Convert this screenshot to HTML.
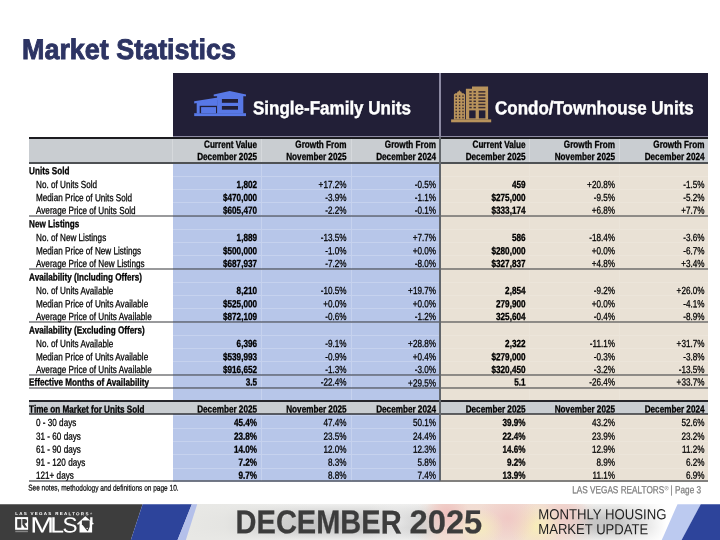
<!DOCTYPE html>
<html><head><meta charset="utf-8"><title>Market Statistics</title>
<style>
html,body{margin:0;padding:0;}
body{width:720px;height:540px;position:relative;overflow:hidden;background:#fff;font-family:"Liberation Sans",sans-serif;}
#p div,#p span{position:absolute;}
#p span{left:0;top:0;width:0;height:0;transform-origin:0 0;display:block;}
#p span i{position:absolute;top:0;font-style:normal;white-space:nowrap;line-height:1;display:block;}
#ft div{position:absolute;}
#p svg{position:absolute;left:0;top:0;}
#p{will-change:transform;position:absolute;left:0;top:0;width:720px;height:540px;}
</style></head><body><div id="p">
<span style="transform:translate(22.00px,35.00px) scale(0.9514,1.0) rotate(0.03deg)"><i style="font-size:28.3px;color:#2d3463;font-weight:700;left:0;-webkit-text-stroke:0.9px #2d3463;">Market Statistics</i></span><div style="left:172.50px;top:72.50px;width:535.80px;height:64.50px;background:#221f37;"></div><div style="left:172.50px;top:137.00px;width:267.90px;height:344.30px;background:#b7c6e9;"></div><div style="left:440.40px;top:137.00px;width:267.90px;height:344.30px;background:#e9e1d5;"></div><div style="left:172.50px;top:175.67px;width:267.90px;height:0.80px;background:#c6d2ee;"></div><div style="left:440.40px;top:175.67px;width:267.90px;height:0.80px;background:#ece5da;"></div><div style="left:172.50px;top:188.94px;width:267.90px;height:0.80px;background:#c6d2ee;"></div><div style="left:440.40px;top:188.94px;width:267.90px;height:0.80px;background:#ece5da;"></div><div style="left:172.50px;top:202.21px;width:267.90px;height:0.80px;background:#c6d2ee;"></div><div style="left:440.40px;top:202.21px;width:267.90px;height:0.80px;background:#ece5da;"></div><div style="left:172.50px;top:215.48px;width:267.90px;height:0.80px;background:#c6d2ee;"></div><div style="left:440.40px;top:215.48px;width:267.90px;height:0.80px;background:#ece5da;"></div><div style="left:172.50px;top:228.75px;width:267.90px;height:0.80px;background:#c6d2ee;"></div><div style="left:440.40px;top:228.75px;width:267.90px;height:0.80px;background:#ece5da;"></div><div style="left:172.50px;top:242.02px;width:267.90px;height:0.80px;background:#c6d2ee;"></div><div style="left:440.40px;top:242.02px;width:267.90px;height:0.80px;background:#ece5da;"></div><div style="left:172.50px;top:255.29px;width:267.90px;height:0.80px;background:#c6d2ee;"></div><div style="left:440.40px;top:255.29px;width:267.90px;height:0.80px;background:#ece5da;"></div><div style="left:172.50px;top:268.56px;width:267.90px;height:0.80px;background:#c6d2ee;"></div><div style="left:440.40px;top:268.56px;width:267.90px;height:0.80px;background:#ece5da;"></div><div style="left:172.50px;top:281.83px;width:267.90px;height:0.80px;background:#c6d2ee;"></div><div style="left:440.40px;top:281.83px;width:267.90px;height:0.80px;background:#ece5da;"></div><div style="left:172.50px;top:295.10px;width:267.90px;height:0.80px;background:#c6d2ee;"></div><div style="left:440.40px;top:295.10px;width:267.90px;height:0.80px;background:#ece5da;"></div><div style="left:172.50px;top:308.37px;width:267.90px;height:0.80px;background:#c6d2ee;"></div><div style="left:440.40px;top:308.37px;width:267.90px;height:0.80px;background:#ece5da;"></div><div style="left:172.50px;top:321.64px;width:267.90px;height:0.80px;background:#c6d2ee;"></div><div style="left:440.40px;top:321.64px;width:267.90px;height:0.80px;background:#ece5da;"></div><div style="left:172.50px;top:334.91px;width:267.90px;height:0.80px;background:#c6d2ee;"></div><div style="left:440.40px;top:334.91px;width:267.90px;height:0.80px;background:#ece5da;"></div><div style="left:172.50px;top:348.18px;width:267.90px;height:0.80px;background:#c6d2ee;"></div><div style="left:440.40px;top:348.18px;width:267.90px;height:0.80px;background:#ece5da;"></div><div style="left:172.50px;top:361.45px;width:267.90px;height:0.80px;background:#c6d2ee;"></div><div style="left:440.40px;top:361.45px;width:267.90px;height:0.80px;background:#ece5da;"></div><div style="left:172.50px;top:374.72px;width:267.90px;height:0.80px;background:#c6d2ee;"></div><div style="left:440.40px;top:374.72px;width:267.90px;height:0.80px;background:#ece5da;"></div><div style="left:172.50px;top:387.99px;width:267.90px;height:0.80px;background:#c6d2ee;"></div><div style="left:440.40px;top:387.99px;width:267.90px;height:0.80px;background:#ece5da;"></div><div style="left:172.50px;top:401.26px;width:267.90px;height:0.80px;background:#c6d2ee;"></div><div style="left:440.40px;top:401.26px;width:267.90px;height:0.80px;background:#ece5da;"></div><div style="left:172.50px;top:414.53px;width:267.90px;height:0.80px;background:#c6d2ee;"></div><div style="left:440.40px;top:414.53px;width:267.90px;height:0.80px;background:#ece5da;"></div><div style="left:172.50px;top:427.80px;width:267.90px;height:0.80px;background:#c6d2ee;"></div><div style="left:440.40px;top:427.80px;width:267.90px;height:0.80px;background:#ece5da;"></div><div style="left:172.50px;top:441.07px;width:267.90px;height:0.80px;background:#c6d2ee;"></div><div style="left:440.40px;top:441.07px;width:267.90px;height:0.80px;background:#ece5da;"></div><div style="left:172.50px;top:454.34px;width:267.90px;height:0.80px;background:#c6d2ee;"></div><div style="left:440.40px;top:454.34px;width:267.90px;height:0.80px;background:#ece5da;"></div><div style="left:172.50px;top:467.61px;width:267.90px;height:0.80px;background:#c6d2ee;"></div><div style="left:440.40px;top:467.61px;width:267.90px;height:0.80px;background:#ece5da;"></div><div style="left:172.50px;top:480.88px;width:267.90px;height:0.80px;background:#c6d2ee;"></div><div style="left:440.40px;top:480.88px;width:267.90px;height:0.80px;background:#ece5da;"></div><div style="left:261.40px;top:137.00px;width:0.80px;height:344.30px;background:#c6d2ee;"></div><div style="left:350.70px;top:137.00px;width:0.80px;height:344.30px;background:#c6d2ee;"></div><div style="left:529.30px;top:137.00px;width:0.80px;height:344.30px;background:#ebe4d9;"></div><div style="left:618.60px;top:137.00px;width:0.80px;height:344.30px;background:#ebe4d9;"></div><div style="left:28.50px;top:137.00px;width:679.80px;height:25.80px;background:#c9cdd1;"></div><div style="left:172.10px;top:137.00px;width:0.80px;height:25.80px;background:#d6d9dc;"></div><div style="left:261.40px;top:137.00px;width:0.80px;height:25.80px;background:#d6d9dc;"></div><div style="left:350.70px;top:137.00px;width:0.80px;height:25.80px;background:#d6d9dc;"></div><div style="left:529.30px;top:137.00px;width:0.80px;height:25.80px;background:#d6d9dc;"></div><div style="left:618.60px;top:137.00px;width:0.80px;height:25.80px;background:#d6d9dc;"></div><div style="left:172.50px;top:135.90px;width:535.80px;height:1.00px;background:#8d8aa3;"></div><div style="left:28.50px;top:137.00px;width:679.80px;height:1.90px;background:#1c1c20;"></div><div style="left:28.50px;top:161.85px;width:679.80px;height:1.90px;background:#4e5154;"></div><span style="transform:translate(257.00px,139.62px) scale(0.8150,1.035) rotate(0.03deg)"><i style="font-size:10px;color:#000;font-weight:700;-webkit-text-stroke:0.3px #000;right:0;">Current Value</i></span><span style="transform:translate(257.00px,151.72px) scale(0.8150,1.035) rotate(0.03deg)"><i style="font-size:10px;color:#000;font-weight:700;-webkit-text-stroke:0.3px #000;right:0;">December 2025</i></span><span style="transform:translate(346.50px,139.62px) scale(0.8150,1.035) rotate(0.03deg)"><i style="font-size:10px;color:#000;font-weight:700;-webkit-text-stroke:0.3px #000;right:0;">Growth From</i></span><span style="transform:translate(346.50px,151.72px) scale(0.8150,1.035) rotate(0.03deg)"><i style="font-size:10px;color:#000;font-weight:700;-webkit-text-stroke:0.3px #000;right:0;">November 2025</i></span><span style="transform:translate(436.00px,139.62px) scale(0.8150,1.035) rotate(0.03deg)"><i style="font-size:10px;color:#000;font-weight:700;-webkit-text-stroke:0.3px #000;right:0;">Growth From</i></span><span style="transform:translate(436.00px,151.72px) scale(0.8150,1.035) rotate(0.03deg)"><i style="font-size:10px;color:#000;font-weight:700;-webkit-text-stroke:0.3px #000;right:0;">December 2024</i></span><span style="transform:translate(525.50px,139.62px) scale(0.8150,1.035) rotate(0.03deg)"><i style="font-size:10px;color:#000;font-weight:700;-webkit-text-stroke:0.3px #000;right:0;">Current Value</i></span><span style="transform:translate(525.50px,151.72px) scale(0.8150,1.035) rotate(0.03deg)"><i style="font-size:10px;color:#000;font-weight:700;-webkit-text-stroke:0.3px #000;right:0;">December 2025</i></span><span style="transform:translate(615.00px,139.62px) scale(0.8150,1.035) rotate(0.03deg)"><i style="font-size:10px;color:#000;font-weight:700;-webkit-text-stroke:0.3px #000;right:0;">Growth From</i></span><span style="transform:translate(615.00px,151.72px) scale(0.8150,1.035) rotate(0.03deg)"><i style="font-size:10px;color:#000;font-weight:700;-webkit-text-stroke:0.3px #000;right:0;">November 2025</i></span><span style="transform:translate(704.50px,139.62px) scale(0.8150,1.035) rotate(0.03deg)"><i style="font-size:10px;color:#000;font-weight:700;-webkit-text-stroke:0.3px #000;right:0;">Growth From</i></span><span style="transform:translate(704.50px,151.72px) scale(0.8150,1.035) rotate(0.03deg)"><i style="font-size:10px;color:#000;font-weight:700;-webkit-text-stroke:0.3px #000;right:0;">December 2024</i></span><span style="transform:translate(29.10px,165.92px) scale(0.8150,1.035) rotate(0.03deg)"><i style="font-size:10px;color:#000;font-weight:700;-webkit-text-stroke:0.3px #000;left:0;">Units Sold</i></span><span style="transform:translate(36.00px,179.62px) scale(0.8150,1.035) rotate(0.03deg)"><i style="font-size:10px;color:#000;-webkit-text-stroke:0.26px #000;left:0;">No. of Units Sold</i></span><span style="transform:translate(257.00px,179.62px) scale(0.8150,1.035) rotate(0.03deg)"><i style="font-size:10px;color:#000;font-weight:700;-webkit-text-stroke:0.3px #000;right:0;">1,802</i></span><span style="transform:translate(346.50px,179.62px) scale(0.8150,1.035) rotate(0.03deg)"><i style="font-size:10px;color:#000;-webkit-text-stroke:0.26px #000;right:0;">+17.2%</i></span><span style="transform:translate(436.00px,179.62px) scale(0.8150,1.035) rotate(0.03deg)"><i style="font-size:10px;color:#000;-webkit-text-stroke:0.26px #000;right:0;">-0.5%</i></span><span style="transform:translate(525.50px,179.62px) scale(0.8150,1.035) rotate(0.03deg)"><i style="font-size:10px;color:#000;font-weight:700;-webkit-text-stroke:0.3px #000;right:0;">459</i></span><span style="transform:translate(615.00px,179.62px) scale(0.8150,1.035) rotate(0.03deg)"><i style="font-size:10px;color:#000;-webkit-text-stroke:0.26px #000;right:0;">+20.8%</i></span><span style="transform:translate(704.50px,179.62px) scale(0.8150,1.035) rotate(0.03deg)"><i style="font-size:10px;color:#000;-webkit-text-stroke:0.26px #000;right:0;">-1.5%</i></span><span style="transform:translate(36.00px,192.82px) scale(0.8150,1.035) rotate(0.03deg)"><i style="font-size:10px;color:#000;-webkit-text-stroke:0.26px #000;left:0;">Median Price of Units Sold</i></span><span style="transform:translate(257.00px,192.82px) scale(0.8150,1.035) rotate(0.03deg)"><i style="font-size:10px;color:#000;font-weight:700;-webkit-text-stroke:0.3px #000;right:0;">$470,000</i></span><span style="transform:translate(346.50px,192.82px) scale(0.8150,1.035) rotate(0.03deg)"><i style="font-size:10px;color:#000;-webkit-text-stroke:0.26px #000;right:0;">-3.9%</i></span><span style="transform:translate(436.00px,192.82px) scale(0.8150,1.035) rotate(0.03deg)"><i style="font-size:10px;color:#000;-webkit-text-stroke:0.26px #000;right:0;">-1.1%</i></span><span style="transform:translate(525.50px,192.82px) scale(0.8150,1.035) rotate(0.03deg)"><i style="font-size:10px;color:#000;font-weight:700;-webkit-text-stroke:0.3px #000;right:0;">$275,000</i></span><span style="transform:translate(615.00px,192.82px) scale(0.8150,1.035) rotate(0.03deg)"><i style="font-size:10px;color:#000;-webkit-text-stroke:0.26px #000;right:0;">-9.5%</i></span><span style="transform:translate(704.50px,192.82px) scale(0.8150,1.035) rotate(0.03deg)"><i style="font-size:10px;color:#000;-webkit-text-stroke:0.26px #000;right:0;">-5.2%</i></span><span style="transform:translate(36.00px,205.57px) scale(0.8150,1.035) rotate(0.03deg)"><i style="font-size:10px;color:#000;-webkit-text-stroke:0.26px #000;left:0;">Average Price of Units Sold</i></span><span style="transform:translate(257.00px,205.57px) scale(0.8150,1.035) rotate(0.03deg)"><i style="font-size:10px;color:#000;font-weight:700;-webkit-text-stroke:0.3px #000;right:0;">$605,470</i></span><span style="transform:translate(346.50px,205.57px) scale(0.8150,1.035) rotate(0.03deg)"><i style="font-size:10px;color:#000;-webkit-text-stroke:0.26px #000;right:0;">-2.2%</i></span><span style="transform:translate(436.00px,205.57px) scale(0.8150,1.035) rotate(0.03deg)"><i style="font-size:10px;color:#000;-webkit-text-stroke:0.26px #000;right:0;">-0.1%</i></span><span style="transform:translate(525.50px,205.57px) scale(0.8150,1.035) rotate(0.03deg)"><i style="font-size:10px;color:#000;font-weight:700;-webkit-text-stroke:0.3px #000;right:0;">$333,174</i></span><span style="transform:translate(615.00px,205.57px) scale(0.8150,1.035) rotate(0.03deg)"><i style="font-size:10px;color:#000;-webkit-text-stroke:0.26px #000;right:0;">+6.8%</i></span><span style="transform:translate(704.50px,205.57px) scale(0.8150,1.035) rotate(0.03deg)"><i style="font-size:10px;color:#000;-webkit-text-stroke:0.26px #000;right:0;">+7.7%</i></span><span style="transform:translate(29.10px,219.02px) scale(0.8150,1.035) rotate(0.03deg)"><i style="font-size:10px;color:#000;font-weight:700;-webkit-text-stroke:0.3px #000;left:0;">New Listings</i></span><span style="transform:translate(36.00px,232.72px) scale(0.8150,1.035) rotate(0.03deg)"><i style="font-size:10px;color:#000;-webkit-text-stroke:0.26px #000;left:0;">No. of New Listings</i></span><span style="transform:translate(257.00px,232.72px) scale(0.8150,1.035) rotate(0.03deg)"><i style="font-size:10px;color:#000;font-weight:700;-webkit-text-stroke:0.3px #000;right:0;">1,889</i></span><span style="transform:translate(346.50px,232.72px) scale(0.8150,1.035) rotate(0.03deg)"><i style="font-size:10px;color:#000;-webkit-text-stroke:0.26px #000;right:0;">-13.5%</i></span><span style="transform:translate(436.00px,232.72px) scale(0.8150,1.035) rotate(0.03deg)"><i style="font-size:10px;color:#000;-webkit-text-stroke:0.26px #000;right:0;">+7.7%</i></span><span style="transform:translate(525.50px,232.72px) scale(0.8150,1.035) rotate(0.03deg)"><i style="font-size:10px;color:#000;font-weight:700;-webkit-text-stroke:0.3px #000;right:0;">586</i></span><span style="transform:translate(615.00px,232.72px) scale(0.8150,1.035) rotate(0.03deg)"><i style="font-size:10px;color:#000;-webkit-text-stroke:0.26px #000;right:0;">-18.4%</i></span><span style="transform:translate(704.50px,232.72px) scale(0.8150,1.035) rotate(0.03deg)"><i style="font-size:10px;color:#000;-webkit-text-stroke:0.26px #000;right:0;">-3.6%</i></span><span style="transform:translate(36.00px,245.92px) scale(0.8150,1.035) rotate(0.03deg)"><i style="font-size:10px;color:#000;-webkit-text-stroke:0.26px #000;left:0;">Median Price of New Listings</i></span><span style="transform:translate(257.00px,245.92px) scale(0.8150,1.035) rotate(0.03deg)"><i style="font-size:10px;color:#000;font-weight:700;-webkit-text-stroke:0.3px #000;right:0;">$500,000</i></span><span style="transform:translate(346.50px,245.92px) scale(0.8150,1.035) rotate(0.03deg)"><i style="font-size:10px;color:#000;-webkit-text-stroke:0.26px #000;right:0;">-1.0%</i></span><span style="transform:translate(436.00px,245.92px) scale(0.8150,1.035) rotate(0.03deg)"><i style="font-size:10px;color:#000;-webkit-text-stroke:0.26px #000;right:0;">+0.0%</i></span><span style="transform:translate(525.50px,245.92px) scale(0.8150,1.035) rotate(0.03deg)"><i style="font-size:10px;color:#000;font-weight:700;-webkit-text-stroke:0.3px #000;right:0;">$280,000</i></span><span style="transform:translate(615.00px,245.92px) scale(0.8150,1.035) rotate(0.03deg)"><i style="font-size:10px;color:#000;-webkit-text-stroke:0.26px #000;right:0;">+0.0%</i></span><span style="transform:translate(704.50px,245.92px) scale(0.8150,1.035) rotate(0.03deg)"><i style="font-size:10px;color:#000;-webkit-text-stroke:0.26px #000;right:0;">-6.7%</i></span><span style="transform:translate(36.00px,258.67px) scale(0.8150,1.035) rotate(0.03deg)"><i style="font-size:10px;color:#000;-webkit-text-stroke:0.26px #000;left:0;">Average Price of New Listings</i></span><span style="transform:translate(257.00px,258.67px) scale(0.8150,1.035) rotate(0.03deg)"><i style="font-size:10px;color:#000;font-weight:700;-webkit-text-stroke:0.3px #000;right:0;">$687,937</i></span><span style="transform:translate(346.50px,258.67px) scale(0.8150,1.035) rotate(0.03deg)"><i style="font-size:10px;color:#000;-webkit-text-stroke:0.26px #000;right:0;">-7.2%</i></span><span style="transform:translate(436.00px,258.67px) scale(0.8150,1.035) rotate(0.03deg)"><i style="font-size:10px;color:#000;-webkit-text-stroke:0.26px #000;right:0;">-8.0%</i></span><span style="transform:translate(525.50px,258.67px) scale(0.8150,1.035) rotate(0.03deg)"><i style="font-size:10px;color:#000;font-weight:700;-webkit-text-stroke:0.3px #000;right:0;">$327,837</i></span><span style="transform:translate(615.00px,258.67px) scale(0.8150,1.035) rotate(0.03deg)"><i style="font-size:10px;color:#000;-webkit-text-stroke:0.26px #000;right:0;">+4.8%</i></span><span style="transform:translate(704.50px,258.67px) scale(0.8150,1.035) rotate(0.03deg)"><i style="font-size:10px;color:#000;-webkit-text-stroke:0.26px #000;right:0;">+3.4%</i></span><span style="transform:translate(29.10px,272.12px) scale(0.8150,1.035) rotate(0.03deg)"><i style="font-size:10px;color:#000;font-weight:700;-webkit-text-stroke:0.3px #000;left:0;">Availability (Including Offers)</i></span><span style="transform:translate(36.00px,285.82px) scale(0.8150,1.035) rotate(0.03deg)"><i style="font-size:10px;color:#000;-webkit-text-stroke:0.26px #000;left:0;">No. of Units Available</i></span><span style="transform:translate(257.00px,285.82px) scale(0.8150,1.035) rotate(0.03deg)"><i style="font-size:10px;color:#000;font-weight:700;-webkit-text-stroke:0.3px #000;right:0;">8,210</i></span><span style="transform:translate(346.50px,285.82px) scale(0.8150,1.035) rotate(0.03deg)"><i style="font-size:10px;color:#000;-webkit-text-stroke:0.26px #000;right:0;">-10.5%</i></span><span style="transform:translate(436.00px,285.82px) scale(0.8150,1.035) rotate(0.03deg)"><i style="font-size:10px;color:#000;-webkit-text-stroke:0.26px #000;right:0;">+19.7%</i></span><span style="transform:translate(525.50px,285.82px) scale(0.8150,1.035) rotate(0.03deg)"><i style="font-size:10px;color:#000;font-weight:700;-webkit-text-stroke:0.3px #000;right:0;">2,854</i></span><span style="transform:translate(615.00px,285.82px) scale(0.8150,1.035) rotate(0.03deg)"><i style="font-size:10px;color:#000;-webkit-text-stroke:0.26px #000;right:0;">-9.2%</i></span><span style="transform:translate(704.50px,285.82px) scale(0.8150,1.035) rotate(0.03deg)"><i style="font-size:10px;color:#000;-webkit-text-stroke:0.26px #000;right:0;">+26.0%</i></span><span style="transform:translate(36.00px,299.02px) scale(0.8150,1.035) rotate(0.03deg)"><i style="font-size:10px;color:#000;-webkit-text-stroke:0.26px #000;left:0;">Median Price of Units Available</i></span><span style="transform:translate(257.00px,299.02px) scale(0.8150,1.035) rotate(0.03deg)"><i style="font-size:10px;color:#000;font-weight:700;-webkit-text-stroke:0.3px #000;right:0;">$525,000</i></span><span style="transform:translate(346.50px,299.02px) scale(0.8150,1.035) rotate(0.03deg)"><i style="font-size:10px;color:#000;-webkit-text-stroke:0.26px #000;right:0;">+0.0%</i></span><span style="transform:translate(436.00px,299.02px) scale(0.8150,1.035) rotate(0.03deg)"><i style="font-size:10px;color:#000;-webkit-text-stroke:0.26px #000;right:0;">+0.0%</i></span><span style="transform:translate(525.50px,299.02px) scale(0.8150,1.035) rotate(0.03deg)"><i style="font-size:10px;color:#000;font-weight:700;-webkit-text-stroke:0.3px #000;right:0;">279,900</i></span><span style="transform:translate(615.00px,299.02px) scale(0.8150,1.035) rotate(0.03deg)"><i style="font-size:10px;color:#000;-webkit-text-stroke:0.26px #000;right:0;">+0.0%</i></span><span style="transform:translate(704.50px,299.02px) scale(0.8150,1.035) rotate(0.03deg)"><i style="font-size:10px;color:#000;-webkit-text-stroke:0.26px #000;right:0;">-4.1%</i></span><span style="transform:translate(36.00px,311.77px) scale(0.8150,1.035) rotate(0.03deg)"><i style="font-size:10px;color:#000;-webkit-text-stroke:0.26px #000;left:0;">Average Price of Units Available</i></span><span style="transform:translate(257.00px,311.77px) scale(0.8150,1.035) rotate(0.03deg)"><i style="font-size:10px;color:#000;font-weight:700;-webkit-text-stroke:0.3px #000;right:0;">$872,109</i></span><span style="transform:translate(346.50px,311.77px) scale(0.8150,1.035) rotate(0.03deg)"><i style="font-size:10px;color:#000;-webkit-text-stroke:0.26px #000;right:0;">-0.6%</i></span><span style="transform:translate(436.00px,311.77px) scale(0.8150,1.035) rotate(0.03deg)"><i style="font-size:10px;color:#000;-webkit-text-stroke:0.26px #000;right:0;">-1.2%</i></span><span style="transform:translate(525.50px,311.77px) scale(0.8150,1.035) rotate(0.03deg)"><i style="font-size:10px;color:#000;font-weight:700;-webkit-text-stroke:0.3px #000;right:0;">325,604</i></span><span style="transform:translate(615.00px,311.77px) scale(0.8150,1.035) rotate(0.03deg)"><i style="font-size:10px;color:#000;-webkit-text-stroke:0.26px #000;right:0;">-0.4%</i></span><span style="transform:translate(704.50px,311.77px) scale(0.8150,1.035) rotate(0.03deg)"><i style="font-size:10px;color:#000;-webkit-text-stroke:0.26px #000;right:0;">-8.9%</i></span><span style="transform:translate(29.10px,325.12px) scale(0.8150,1.035) rotate(0.03deg)"><i style="font-size:10px;color:#000;font-weight:700;-webkit-text-stroke:0.3px #000;left:0;">Availability (Excluding Offers)</i></span><span style="transform:translate(36.00px,338.82px) scale(0.8150,1.035) rotate(0.03deg)"><i style="font-size:10px;color:#000;-webkit-text-stroke:0.26px #000;left:0;">No. of Units Available</i></span><span style="transform:translate(257.00px,338.82px) scale(0.8150,1.035) rotate(0.03deg)"><i style="font-size:10px;color:#000;font-weight:700;-webkit-text-stroke:0.3px #000;right:0;">6,396</i></span><span style="transform:translate(346.50px,338.82px) scale(0.8150,1.035) rotate(0.03deg)"><i style="font-size:10px;color:#000;-webkit-text-stroke:0.26px #000;right:0;">-9.1%</i></span><span style="transform:translate(436.00px,338.82px) scale(0.8150,1.035) rotate(0.03deg)"><i style="font-size:10px;color:#000;-webkit-text-stroke:0.26px #000;right:0;">+28.8%</i></span><span style="transform:translate(525.50px,338.82px) scale(0.8150,1.035) rotate(0.03deg)"><i style="font-size:10px;color:#000;font-weight:700;-webkit-text-stroke:0.3px #000;right:0;">2,322</i></span><span style="transform:translate(615.00px,338.82px) scale(0.8150,1.035) rotate(0.03deg)"><i style="font-size:10px;color:#000;-webkit-text-stroke:0.26px #000;right:0;">-11.1%</i></span><span style="transform:translate(704.50px,338.82px) scale(0.8150,1.035) rotate(0.03deg)"><i style="font-size:10px;color:#000;-webkit-text-stroke:0.26px #000;right:0;">+31.7%</i></span><span style="transform:translate(36.00px,352.02px) scale(0.8150,1.035) rotate(0.03deg)"><i style="font-size:10px;color:#000;-webkit-text-stroke:0.26px #000;left:0;">Median Price of Units Available</i></span><span style="transform:translate(257.00px,352.02px) scale(0.8150,1.035) rotate(0.03deg)"><i style="font-size:10px;color:#000;font-weight:700;-webkit-text-stroke:0.3px #000;right:0;">$539,993</i></span><span style="transform:translate(346.50px,352.02px) scale(0.8150,1.035) rotate(0.03deg)"><i style="font-size:10px;color:#000;-webkit-text-stroke:0.26px #000;right:0;">-0.9%</i></span><span style="transform:translate(436.00px,352.02px) scale(0.8150,1.035) rotate(0.03deg)"><i style="font-size:10px;color:#000;-webkit-text-stroke:0.26px #000;right:0;">+0.4%</i></span><span style="transform:translate(525.50px,352.02px) scale(0.8150,1.035) rotate(0.03deg)"><i style="font-size:10px;color:#000;font-weight:700;-webkit-text-stroke:0.3px #000;right:0;">$279,000</i></span><span style="transform:translate(615.00px,352.02px) scale(0.8150,1.035) rotate(0.03deg)"><i style="font-size:10px;color:#000;-webkit-text-stroke:0.26px #000;right:0;">-0.3%</i></span><span style="transform:translate(704.50px,352.02px) scale(0.8150,1.035) rotate(0.03deg)"><i style="font-size:10px;color:#000;-webkit-text-stroke:0.26px #000;right:0;">-3.8%</i></span><span style="transform:translate(36.00px,364.77px) scale(0.8150,1.035) rotate(0.03deg)"><i style="font-size:10px;color:#000;-webkit-text-stroke:0.26px #000;left:0;">Average Price of Units Available</i></span><span style="transform:translate(257.00px,364.77px) scale(0.8150,1.035) rotate(0.03deg)"><i style="font-size:10px;color:#000;font-weight:700;-webkit-text-stroke:0.3px #000;right:0;">$916,652</i></span><span style="transform:translate(346.50px,364.77px) scale(0.8150,1.035) rotate(0.03deg)"><i style="font-size:10px;color:#000;-webkit-text-stroke:0.26px #000;right:0;">-1.3%</i></span><span style="transform:translate(436.00px,364.77px) scale(0.8150,1.035) rotate(0.03deg)"><i style="font-size:10px;color:#000;-webkit-text-stroke:0.26px #000;right:0;">-3.0%</i></span><span style="transform:translate(525.50px,364.77px) scale(0.8150,1.035) rotate(0.03deg)"><i style="font-size:10px;color:#000;font-weight:700;-webkit-text-stroke:0.3px #000;right:0;">$320,450</i></span><span style="transform:translate(615.00px,364.77px) scale(0.8150,1.035) rotate(0.03deg)"><i style="font-size:10px;color:#000;-webkit-text-stroke:0.26px #000;right:0;">-3.2%</i></span><span style="transform:translate(704.50px,364.77px) scale(0.8150,1.035) rotate(0.03deg)"><i style="font-size:10px;color:#000;-webkit-text-stroke:0.26px #000;right:0;">-13.5%</i></span><span style="transform:translate(29.10px,377.32px) scale(0.8150,1.035) rotate(0.03deg)"><i style="font-size:10px;color:#000;font-weight:700;-webkit-text-stroke:0.3px #000;left:0;">Effective Months of Availability</i></span><span style="transform:translate(257.00px,377.32px) scale(0.8150,1.035) rotate(0.03deg)"><i style="font-size:10px;color:#000;font-weight:700;-webkit-text-stroke:0.3px #000;right:0;">3.5</i></span><span style="transform:translate(346.50px,377.32px) scale(0.8150,1.035) rotate(0.03deg)"><i style="font-size:10px;color:#000;-webkit-text-stroke:0.26px #000;right:0;">-22.4%</i></span><span style="transform:translate(436.00px,378.22px) scale(0.8150,1.035) rotate(0.03deg)"><i style="font-size:10px;color:#000;-webkit-text-stroke:0.26px #000;right:0;">+29.5%</i></span><span style="transform:translate(525.50px,377.32px) scale(0.8150,1.035) rotate(0.03deg)"><i style="font-size:10px;color:#000;font-weight:700;-webkit-text-stroke:0.3px #000;right:0;">5.1</i></span><span style="transform:translate(615.00px,377.32px) scale(0.8150,1.035) rotate(0.03deg)"><i style="font-size:10px;color:#000;-webkit-text-stroke:0.26px #000;right:0;">-26.4%</i></span><span style="transform:translate(704.50px,377.32px) scale(0.8150,1.035) rotate(0.03deg)"><i style="font-size:10px;color:#000;-webkit-text-stroke:0.26px #000;right:0;">+33.7%</i></span><div style="left:28.50px;top:401.40px;width:679.80px;height:12.90px;background:#c9cdd1;"></div><div style="left:28.50px;top:400.40px;width:679.80px;height:1.90px;background:#26262b;"></div><div style="left:28.50px;top:413.30px;width:679.80px;height:1.90px;background:rgba(40,42,46,0.7);"></div><span style="transform:translate(29.10px,404.32px) scale(0.8150,1.035) rotate(0.03deg)"><i style="font-size:10px;color:#000;font-weight:700;-webkit-text-stroke:0.3px #000;left:0;">Time on Market for Units Sold</i></span><span style="transform:translate(257.00px,404.32px) scale(0.8150,1.035) rotate(0.03deg)"><i style="font-size:10px;color:#000;font-weight:700;-webkit-text-stroke:0.3px #000;right:0;">December 2025</i></span><span style="transform:translate(346.50px,404.32px) scale(0.8150,1.035) rotate(0.03deg)"><i style="font-size:10px;color:#000;font-weight:700;-webkit-text-stroke:0.3px #000;right:0;">November 2025</i></span><span style="transform:translate(436.00px,404.32px) scale(0.8150,1.035) rotate(0.03deg)"><i style="font-size:10px;color:#000;font-weight:700;-webkit-text-stroke:0.3px #000;right:0;">December 2024</i></span><span style="transform:translate(525.50px,404.32px) scale(0.8150,1.035) rotate(0.03deg)"><i style="font-size:10px;color:#000;font-weight:700;-webkit-text-stroke:0.3px #000;right:0;">December 2025</i></span><span style="transform:translate(615.00px,404.32px) scale(0.8150,1.035) rotate(0.03deg)"><i style="font-size:10px;color:#000;font-weight:700;-webkit-text-stroke:0.3px #000;right:0;">November 2025</i></span><span style="transform:translate(704.50px,404.32px) scale(0.8150,1.035) rotate(0.03deg)"><i style="font-size:10px;color:#000;font-weight:700;-webkit-text-stroke:0.3px #000;right:0;">December 2024</i></span><span style="transform:translate(36.00px,417.67px) scale(0.8150,1.035) rotate(0.03deg)"><i style="font-size:10px;color:#000;-webkit-text-stroke:0.26px #000;left:0;">0 - 30 days</i></span><span style="transform:translate(257.00px,417.67px) scale(0.8150,1.035) rotate(0.03deg)"><i style="font-size:10px;color:#000;font-weight:700;-webkit-text-stroke:0.3px #000;right:0;">45.4%</i></span><span style="transform:translate(346.50px,417.67px) scale(0.8150,1.035) rotate(0.03deg)"><i style="font-size:10px;color:#000;-webkit-text-stroke:0.26px #000;right:0;">47.4%</i></span><span style="transform:translate(436.00px,417.67px) scale(0.8150,1.035) rotate(0.03deg)"><i style="font-size:10px;color:#000;-webkit-text-stroke:0.26px #000;right:0;">50.1%</i></span><span style="transform:translate(525.50px,417.67px) scale(0.8150,1.035) rotate(0.03deg)"><i style="font-size:10px;color:#000;font-weight:700;-webkit-text-stroke:0.3px #000;right:0;">39.9%</i></span><span style="transform:translate(615.00px,417.67px) scale(0.8150,1.035) rotate(0.03deg)"><i style="font-size:10px;color:#000;-webkit-text-stroke:0.26px #000;right:0;">43.2%</i></span><span style="transform:translate(704.50px,417.67px) scale(0.8150,1.035) rotate(0.03deg)"><i style="font-size:10px;color:#000;-webkit-text-stroke:0.26px #000;right:0;">52.6%</i></span><span style="transform:translate(36.00px,431.52px) scale(0.8150,1.035) rotate(0.03deg)"><i style="font-size:10px;color:#000;-webkit-text-stroke:0.26px #000;left:0;">31 - 60 days</i></span><span style="transform:translate(257.00px,431.52px) scale(0.8150,1.035) rotate(0.03deg)"><i style="font-size:10px;color:#000;font-weight:700;-webkit-text-stroke:0.3px #000;right:0;">23.8%</i></span><span style="transform:translate(346.50px,431.52px) scale(0.8150,1.035) rotate(0.03deg)"><i style="font-size:10px;color:#000;-webkit-text-stroke:0.26px #000;right:0;">23.5%</i></span><span style="transform:translate(436.00px,431.52px) scale(0.8150,1.035) rotate(0.03deg)"><i style="font-size:10px;color:#000;-webkit-text-stroke:0.26px #000;right:0;">24.4%</i></span><span style="transform:translate(525.50px,431.52px) scale(0.8150,1.035) rotate(0.03deg)"><i style="font-size:10px;color:#000;font-weight:700;-webkit-text-stroke:0.3px #000;right:0;">22.4%</i></span><span style="transform:translate(615.00px,431.52px) scale(0.8150,1.035) rotate(0.03deg)"><i style="font-size:10px;color:#000;-webkit-text-stroke:0.26px #000;right:0;">23.9%</i></span><span style="transform:translate(704.50px,431.52px) scale(0.8150,1.035) rotate(0.03deg)"><i style="font-size:10px;color:#000;-webkit-text-stroke:0.26px #000;right:0;">23.2%</i></span><span style="transform:translate(36.00px,444.42px) scale(0.8150,1.035) rotate(0.03deg)"><i style="font-size:10px;color:#000;-webkit-text-stroke:0.26px #000;left:0;">61 - 90 days</i></span><span style="transform:translate(257.00px,444.42px) scale(0.8150,1.035) rotate(0.03deg)"><i style="font-size:10px;color:#000;font-weight:700;-webkit-text-stroke:0.3px #000;right:0;">14.0%</i></span><span style="transform:translate(346.50px,444.42px) scale(0.8150,1.035) rotate(0.03deg)"><i style="font-size:10px;color:#000;-webkit-text-stroke:0.26px #000;right:0;">12.0%</i></span><span style="transform:translate(436.00px,444.42px) scale(0.8150,1.035) rotate(0.03deg)"><i style="font-size:10px;color:#000;-webkit-text-stroke:0.26px #000;right:0;">12.3%</i></span><span style="transform:translate(525.50px,444.42px) scale(0.8150,1.035) rotate(0.03deg)"><i style="font-size:10px;color:#000;font-weight:700;-webkit-text-stroke:0.3px #000;right:0;">14.6%</i></span><span style="transform:translate(615.00px,444.42px) scale(0.8150,1.035) rotate(0.03deg)"><i style="font-size:10px;color:#000;-webkit-text-stroke:0.26px #000;right:0;">12.9%</i></span><span style="transform:translate(704.50px,444.42px) scale(0.8150,1.035) rotate(0.03deg)"><i style="font-size:10px;color:#000;-webkit-text-stroke:0.26px #000;right:0;">11.2%</i></span><span style="transform:translate(36.00px,457.57px) scale(0.8150,1.035) rotate(0.03deg)"><i style="font-size:10px;color:#000;-webkit-text-stroke:0.26px #000;left:0;">91 - 120 days</i></span><span style="transform:translate(257.00px,457.57px) scale(0.8150,1.035) rotate(0.03deg)"><i style="font-size:10px;color:#000;font-weight:700;-webkit-text-stroke:0.3px #000;right:0;">7.2%</i></span><span style="transform:translate(346.50px,457.57px) scale(0.8150,1.035) rotate(0.03deg)"><i style="font-size:10px;color:#000;-webkit-text-stroke:0.26px #000;right:0;">8.3%</i></span><span style="transform:translate(436.00px,457.57px) scale(0.8150,1.035) rotate(0.03deg)"><i style="font-size:10px;color:#000;-webkit-text-stroke:0.26px #000;right:0;">5.8%</i></span><span style="transform:translate(525.50px,457.57px) scale(0.8150,1.035) rotate(0.03deg)"><i style="font-size:10px;color:#000;font-weight:700;-webkit-text-stroke:0.3px #000;right:0;">9.2%</i></span><span style="transform:translate(615.00px,457.57px) scale(0.8150,1.035) rotate(0.03deg)"><i style="font-size:10px;color:#000;-webkit-text-stroke:0.26px #000;right:0;">8.9%</i></span><span style="transform:translate(704.50px,457.57px) scale(0.8150,1.035) rotate(0.03deg)"><i style="font-size:10px;color:#000;-webkit-text-stroke:0.26px #000;right:0;">6.2%</i></span><span style="transform:translate(36.00px,470.47px) scale(0.8150,1.035) rotate(0.03deg)"><i style="font-size:10px;color:#000;-webkit-text-stroke:0.26px #000;left:0;">121+ days</i></span><span style="transform:translate(257.00px,470.47px) scale(0.8150,1.035) rotate(0.03deg)"><i style="font-size:10px;color:#000;font-weight:700;-webkit-text-stroke:0.3px #000;right:0;">9.7%</i></span><span style="transform:translate(346.50px,470.47px) scale(0.8150,1.035) rotate(0.03deg)"><i style="font-size:10px;color:#000;-webkit-text-stroke:0.26px #000;right:0;">8.8%</i></span><span style="transform:translate(436.00px,470.47px) scale(0.8150,1.035) rotate(0.03deg)"><i style="font-size:10px;color:#000;-webkit-text-stroke:0.26px #000;right:0;">7.4%</i></span><span style="transform:translate(525.50px,470.47px) scale(0.8150,1.035) rotate(0.03deg)"><i style="font-size:10px;color:#000;font-weight:700;-webkit-text-stroke:0.3px #000;right:0;">13.9%</i></span><span style="transform:translate(615.00px,470.47px) scale(0.8150,1.035) rotate(0.03deg)"><i style="font-size:10px;color:#000;-webkit-text-stroke:0.26px #000;right:0;">11.1%</i></span><span style="transform:translate(704.50px,470.47px) scale(0.8150,1.035) rotate(0.03deg)"><i style="font-size:10px;color:#000;-webkit-text-stroke:0.26px #000;right:0;">6.9%</i></span><div style="left:28.50px;top:214.85px;width:679.80px;height:2.10px;background:rgba(38,40,44,0.47);"></div><div style="left:28.50px;top:267.95px;width:679.80px;height:2.10px;background:rgba(38,40,44,0.47);"></div><div style="left:28.50px;top:320.95px;width:679.80px;height:2.10px;background:rgba(38,40,44,0.47);"></div><div style="left:28.50px;top:373.55px;width:679.80px;height:2.10px;background:rgba(38,40,44,0.47);"></div><div style="left:28.50px;top:387.25px;width:679.80px;height:2.10px;background:rgba(38,40,44,0.47);"></div><div style="left:28.50px;top:480.30px;width:679.80px;height:2.00px;background:rgba(60,62,66,0.6);"></div><div style="left:439.30px;top:72.50px;width:2.20px;height:63.50px;background:#8d8aa3;"></div><div style="left:439.45px;top:137.00px;width:1.90px;height:344.30px;background:#62666b;"></div><span style="transform:translate(253.00px,99.20px) scale(0.9057,1.0) rotate(0.03deg)"><i style="font-size:18.8px;color:#fff;font-weight:700;left:0;text-shadow:0.6px 0.8px 0 #14122a, -0.3px 0 0 #14122a;-webkit-text-stroke:0.45px #fff;">Single-Family Units</i></span><span style="transform:translate(495.00px,99.20px) scale(0.9045,1.0) rotate(0.03deg)"><i style="font-size:18.8px;color:#fff;font-weight:700;left:0;text-shadow:0.6px 0.8px 0 #14122a, -0.3px 0 0 #14122a;-webkit-text-stroke:0.45px #fff;">Condo/Townhouse Units</i></span><span style="transform:translate(28.20px,484.42px) scale(0.7960,1.03) rotate(0.03deg)"><i style="font-size:8.2px;color:#000;left:0;-webkit-text-stroke:0.2px #000;">See notes, methodology and definitions on page 10.</i></span><span style="transform:translate(572.20px,485.02px) scale(0.8222,1.035) rotate(0.03deg)"><i style="font-size:10px;color:#7f7f7f;-webkit-text-stroke:0.26px #7f7f7f;left:0;">LAS VEGAS REALTORS</i></span><span style="transform:translate(664.60px,485.20px) scale(0.9000,1.0) rotate(0.03deg)"><i style="font-size:6.2px;color:#7f7f7f;left:0;">&reg;</i></span><span style="transform:translate(701.10px,485.02px) scale(0.8228,1.035) rotate(0.03deg)"><i style="font-size:10px;color:#7f7f7f;-webkit-text-stroke:0.26px #7f7f7f;right:0;">| Page 3</i></span>
<svg width="720" height="540" viewBox="0 0 720 540">
<!-- house icon -->
<g fill="#5878e6">
<rect x="194.2" y="113.2" width="51.8" height="2.9"/>
<rect x="217.1" y="95.5" width="26.2" height="18"/>
<polygon points="213.7,94.4 229.7,91 246,94.4 246,96.3 213.7,96.3"/>
<polygon points="194.2,101.3 218,97.5 218,99.9 194.2,103.6"/>
<polygon points="196.7,102.4 217.2,99 217.2,113.4 196.7,113.4"/>
</g>
<g fill="#221f37">
<rect x="199.7" y="105.8" width="17.3" height="7.4"/>
<rect x="221.9" y="99" width="16.1" height="3.8"/>
<rect x="221.9" y="106" width="16.1" height="3.7"/>
</g>
<rect x="201.1" y="107.1" width="14.9" height="6.2" fill="#5878e6"/>
<!-- building icon -->
<g fill="#b8935c">
<rect x="451.1" y="119.4" width="40.1" height="2.9"/>
<polygon points="453.9,119.5 453.9,94.6 455.3,93.2 456.9,93.2 457.6,91.6 458.6,91.6 459.4,89.9 460.2,91.6 461.2,91.6 461.9,93.2 463.5,93.2 465,94.6 465,119.5"/>
<polygon points="465.9,119.5 465.9,88.7 472,88.7 472,86.5 488.1,86.5 488.1,119.5"/>
</g>
<g fill="#3a2c2a" id="bw"></g>
<rect x="455.50" y="95.40" width="1.4" height="1.5" fill="#3b2d33"/>
<rect x="458.90" y="95.40" width="1.4" height="1.5" fill="#3b2d33"/>
<rect x="462.30" y="95.40" width="1.4" height="1.5" fill="#3b2d33"/>
<rect x="455.50" y="98.46" width="1.4" height="1.5" fill="#3b2d33"/>
<rect x="458.90" y="98.46" width="1.4" height="1.5" fill="#3b2d33"/>
<rect x="462.30" y="98.46" width="1.4" height="1.5" fill="#3b2d33"/>
<rect x="455.50" y="101.52" width="1.4" height="1.5" fill="#3b2d33"/>
<rect x="458.90" y="101.52" width="1.4" height="1.5" fill="#3b2d33"/>
<rect x="462.30" y="101.52" width="1.4" height="1.5" fill="#3b2d33"/>
<rect x="455.50" y="104.58" width="1.4" height="1.5" fill="#3b2d33"/>
<rect x="458.90" y="104.58" width="1.4" height="1.5" fill="#3b2d33"/>
<rect x="462.30" y="104.58" width="1.4" height="1.5" fill="#3b2d33"/>
<rect x="455.50" y="107.64" width="1.4" height="1.5" fill="#3b2d33"/>
<rect x="458.90" y="107.64" width="1.4" height="1.5" fill="#3b2d33"/>
<rect x="462.30" y="107.64" width="1.4" height="1.5" fill="#3b2d33"/>
<rect x="455.50" y="110.70" width="1.4" height="1.5" fill="#3b2d33"/>
<rect x="458.90" y="110.70" width="1.4" height="1.5" fill="#3b2d33"/>
<rect x="462.30" y="110.70" width="1.4" height="1.5" fill="#3b2d33"/>
<rect x="455.50" y="113.76" width="1.4" height="1.5" fill="#3b2d33"/>
<rect x="458.90" y="113.76" width="1.4" height="1.5" fill="#3b2d33"/>
<rect x="462.30" y="113.76" width="1.4" height="1.5" fill="#3b2d33"/>
<rect x="455.50" y="116.82" width="1.4" height="1.5" fill="#3b2d33"/>
<rect x="458.90" y="116.82" width="1.4" height="1.5" fill="#3b2d33"/>
<rect x="462.30" y="116.82" width="1.4" height="1.5" fill="#3b2d33"/>
<rect x="469.3" y="91.10" width="2.40" height="1.5" fill="#3b2d33"/>
<rect x="473.5" y="91.10" width="2.40" height="1.5" fill="#3b2d33"/>
<rect x="478.4" y="91.10" width="7.00" height="1.5" fill="#3b2d33"/>
<rect x="469.3" y="94.25" width="2.40" height="1.5" fill="#3b2d33"/>
<rect x="473.5" y="94.25" width="2.40" height="1.5" fill="#3b2d33"/>
<rect x="478.4" y="94.25" width="7.00" height="1.5" fill="#3b2d33"/>
<rect x="469.3" y="97.40" width="2.40" height="1.5" fill="#3b2d33"/>
<rect x="473.5" y="97.40" width="2.40" height="1.5" fill="#3b2d33"/>
<rect x="478.4" y="97.40" width="7.00" height="1.5" fill="#3b2d33"/>
<rect x="469.3" y="100.55" width="2.40" height="1.5" fill="#3b2d33"/>
<rect x="473.5" y="100.55" width="2.40" height="1.5" fill="#3b2d33"/>
<rect x="478.4" y="100.55" width="7.00" height="1.5" fill="#3b2d33"/>
<rect x="469.3" y="103.70" width="2.40" height="1.5" fill="#3b2d33"/>
<rect x="473.5" y="103.70" width="2.40" height="1.5" fill="#3b2d33"/>
<rect x="478.4" y="103.70" width="7.00" height="1.5" fill="#3b2d33"/>
<rect x="469.3" y="106.85" width="2.40" height="1.5" fill="#3b2d33"/>
<rect x="473.5" y="106.85" width="2.40" height="1.5" fill="#3b2d33"/>
<rect x="478.4" y="106.85" width="7.00" height="1.5" fill="#3b2d33"/>
<rect x="469.2" y="110.4" width="6.40" height="7.9" fill="#221f37"/>
<rect x="478.9" y="110.4" width="6.50" height="7.9" fill="#221f37"/>
</svg>

<div style="left:0;top:504.2px;width:720px;height:36px;background:#fff;overflow:hidden" id="ft">
 <div style="left:180px;top:0;width:500px;height:36px;background:linear-gradient(to bottom,#efefee 0%,#dcdcdb 18%,#c8c8c8 38%,#c4c4c4 66%,#dadada 86%,#ececeb 100%)"></div>
 <div style="left:180px;top:0;width:130px;height:36px;background:linear-gradient(to right,rgba(232,232,229,1) 0,rgba(232,232,229,0.9) 45px,rgba(232,232,229,0) 130px)"></div>
 <div style="left:340px;top:0;width:120px;height:36px;background:radial-gradient(ellipse 34px 30px at 58px 18px,rgba(240,240,240,0.75),rgba(240,240,240,0) 100%)"></div>
 <div style="left:400px;top:0;width:200px;height:36px;background:
   radial-gradient(ellipse 22px 22px at 47px 10px,rgba(238,190,188,0.95),rgba(238,190,188,0) 100%),
   radial-gradient(ellipse 24px 20px at 80px 24px,rgba(246,236,190,0.95),rgba(246,236,190,0) 100%),
   radial-gradient(ellipse 30px 26px at 108px 14px,rgba(240,200,196,0.95),rgba(240,200,196,0) 100%),
   radial-gradient(ellipse 26px 24px at 136px 22px,rgba(248,238,184,0.98),rgba(248,238,184,0) 100%),
   radial-gradient(ellipse 24px 24px at 166px 12px,rgba(238,200,196,0.9),rgba(238,200,196,0) 100%),
   linear-gradient(to right,rgba(242,220,210,0) 18px,rgba(242,220,210,0.95) 42px,rgba(242,220,210,0.95) 160px,rgba(242,220,210,0) 195px)"></div>
 <div style="left:600px;top:0;width:80px;height:36px;background:linear-gradient(to right,rgba(255,255,255,0) 18px,rgba(255,255,255,0.55) 45px,rgba(255,255,255,1) 66px)"></div>
 <div style="left:0;top:0;width:200px;height:36px;background:#3d3d3d;clip-path:polygon(0 0,142.6px 0,130.8px 36px,0 36px)"></div>
 <div style="left:0;top:0;width:200px;height:36px;background:#2d449b;clip-path:polygon(142.6px 0,191.8px 0,177.5px 36px,130.8px 36px)"></div>
 <div style="left:0;top:0;width:200px;height:36px;background:#b4c0ea;clip-path:polygon(191.8px 0,197.2px 0,185.8px 36px,177.5px 36px)"></div>
 <div style="left:640px;top:0;width:80px;height:36px;background:#bccaf0;clip-path:polygon(37.5px 0,61px 0,41.7px 36px,21.7px 36px)"></div>
 <div style="left:640px;top:0;width:80px;height:36px;background:#2d449b;clip-path:polygon(60.8px 0,80px 0,80px 36px,41.5px 36px)"></div>
</div>
<svg width="720" height="540" viewBox="0 0 720 540">
 <rect x="15.1" y="517.1" width="13" height="12.7" fill="#fff"/>
 <rect x="17.2" y="519.1" width="4.1" height="8.6" fill="#3d3d3d"/>
 <path d="M22.3 519.1 h2.6 a2.25 2.25 0 0 1 0 4.5 h-0.5 l2.9 4.1 h-2.7 l-2.3 -3.2 z" fill="#3d3d3d"/>
 <rect x="15.3" y="530.7" width="12.6" height="1.5" fill="#858585"/>
 <polygon points="85.3,516.2 90.2,520.4 90.2,517.3 92.5,517.3 92.5,522.4 93.8,523.5 92.9,524.7 92.1,524 92.1,532.4 79.5,532.4 79.5,523.6 78,524.9 77,523.7" fill="#fff"/>
 <polygon points="81.9,520.6 89.7,520.6 89.7,526.8 87.9,531.2 86.9,530.4 81.9,524.2" fill="#3d3d3d"/>
 <circle cx="87.2" cy="528.4" r="0.7" fill="#fff"/>
</svg>

<span style="transform:translate(235.60px,505.30px) scale(0.8790,1.0) rotate(0.03deg)"><i style="font-size:33px;color:#3c3c3c;font-weight:700;left:0;-webkit-text-stroke:0.25px #3c3c3c;">DECEMBER</i></span><span style="transform:translate(409.60px,505.30px) scale(0.9889,1.0) rotate(0.03deg)"><i style="font-size:33px;color:#3c3c3c;font-weight:700;left:0;-webkit-text-stroke:0.25px #3c3c3c;">2025</i></span><span style="transform:translate(538.30px,507.20px) scale(0.9014,1.0) rotate(0.03deg)"><i style="font-size:14.6px;color:#1e1e1e;left:0;">MONTHLY HOUSING</i></span><span style="transform:translate(538.30px,522.10px) scale(0.8960,1.0) rotate(0.03deg)"><i style="font-size:14.6px;color:#1e1e1e;left:0;">MARKET UPDATE</i></span><span style="transform:translate(15.20px,512.10px) scale(1.0508,1.0) rotate(0.03deg)"><i style="font-size:4.3px;color:#fff;font-weight:700;letter-spacing:1.2px;left:0;">LAS VEGAS REALTORS</i></span><span style="transform:translate(90.20px,513.20px) scale(1.0000,1.0) rotate(0.03deg)"><i style="font-size:2.5px;color:#fff;font-weight:700;left:0;">&reg;</i></span><span style="transform:translate(30.35px,514.40px) scale(1.3000,1.0) rotate(0.03deg)"><i style="font-size:22.0px;color:#fff;left:0;">M</i></span><span style="transform:translate(50.20px,514.40px) scale(1.1240,1.0) rotate(0.03deg)"><i style="font-size:22.0px;color:#fff;left:0;">L</i></span><span style="transform:translate(62.50px,514.40px) scale(1.0250,1.0) rotate(0.03deg)"><i style="font-size:22.0px;color:#fff;left:0;">S</i></span>
</div></body></html>
